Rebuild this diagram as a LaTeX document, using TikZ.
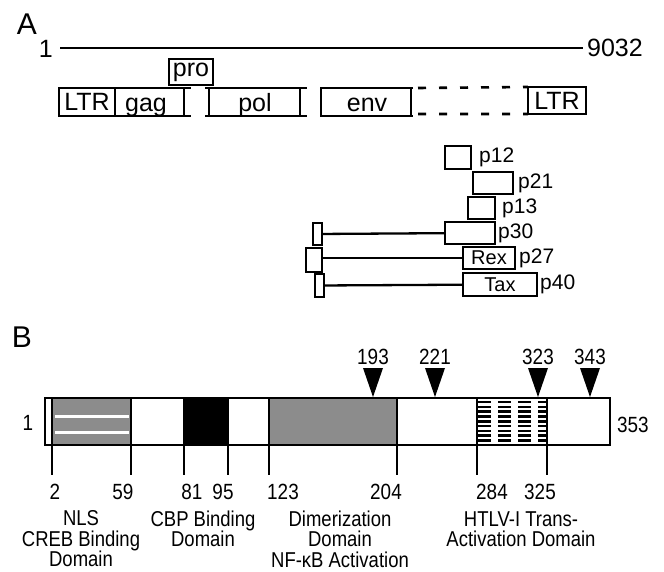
\documentclass[tikz,border=0pt]{standalone}
\usepackage{fontspec}
\setmainfont{Liberation Sans}
\newfontfamily\narrowfont[FakeStretch=0.86]{Liberation Sans}
\usetikzlibrary{positioning}

\begin{document}
\begin{tikzpicture}[x=1pt, y=-1pt, line width=2.3pt,
  gene/.style={draw, line width=2.6pt, inner sep=0pt, outer sep=0pt,
    anchor=north west, font=\fontsize{25}{25}\selectfont},
  orf/.style={draw, line width=2.4pt, inner sep=0pt, outer sep=0pt,
    anchor=north west, font=\fontsize{20}{20}\selectfont},
  plab/.style={inner sep=0pt, font=\fontsize{21}{21}\selectfont},
  num/.style={inner sep=0pt, font=\narrowfont\fontsize{22}{22}\selectfont},
  dom/.style={inner sep=0pt, align=center,
    font=\narrowfont\fontsize{21.5}{20.5}\selectfont},
  panel/.style={inner sep=0pt, font=\fontsize{30}{30}\selectfont}]
  \useasboundingbox (0,0) rectangle (664,572);

  \node[panel] (panA) at (27,24) {A};
  \node[anchor=east, inner sep=0pt, font=\fontsize{25}{25}\selectfont] (first) at (54,49) {1};
  \node[anchor=west, inner sep=0pt, font=\fontsize{25}{25}\selectfont] (last) at (586,48) {9032};
  \draw ([xshift=6pt]first.east |- 0,48) -- ([xshift=-3pt]last.west);

  \node[gene, minimum width=56pt, minimum height=28pt] (ltrL) at (59,88) {LTR};
  \node[gene, minimum width=44pt, minimum height=26pt] (pro) at (169,59) {pro};
  \node[gene, minimum width=58pt, minimum height=27pt] (ltrR) at (528,87) {LTR};

  \draw[line width=2.6pt] (ltrL.north east) -- (191,88) (ltrL.south east) -- (191,116)
    (184,88) -- (184,116);
  \node[anchor=base, inner sep=0pt, font=\fontsize{25}{25}\selectfont] (gag) at (146,112) {gag};

  \draw[line width=2.6pt] (205,88) -- (307,88) (205,116) -- (307,116)
    (209,88) -- (209,116) (300,88) -- (300,116);
  \node[anchor=base, inner sep=0pt, font=\fontsize{25}{25}\selectfont] (pol) at (255,112) {pol};

  \draw[line width=2.6pt] (413,88) -- (321,88) -- (321,116) -- (413,116)
    (411,88) -- (411,116);
  \node[anchor=base, inner sep=0pt, font=\fontsize{25}{25}\selectfont] (env) at (367,112) {env};

  \draw[line width=2.6pt, dash pattern=on 8pt off 13pt] (418,88) -- (ltrR.north west)
    (418,114) -- (ltrR.south west);

  \node[orf, minimum width=26pt, minimum height=23pt] (p12) at (445,146) {};
  \node[orf, minimum width=40pt, minimum height=22pt] (p21) at (473,172) {};
  \node[orf, minimum width=27pt, minimum height=22pt] (p13) at (468,197) {};
  \node[orf, minimum width=50pt, minimum height=22pt] (p30) at (445,222) {};
  \node[orf, minimum width=52pt, minimum height=22pt] (rex) at (463,247) {Rex};
  \node[orf, minimum width=74pt, minimum height=23pt] (tax) at (463,273) {Tax};

  \node[orf, minimum width=9pt, minimum height=22pt] (p30s) at (313,223) {};
  \node[orf, minimum width=16pt, minimum height=24pt] (rexs) at (306,248) {};
  \node[orf, minimum width=9pt, minimum height=23pt] (taxs) at (315,274) {};
  \draw (p30s) -- (p30);
  \draw (rexs.east |- rex.west) -- (rex.west);
  \draw (taxs) -- (tax);

  \node[plab, right=7pt of p12] (l12) {p12};
  \node[plab, right=4pt of p21] (l21) {p21};
  \node[plab, right=6pt of p13] (l13) {p13};
  \node[plab, right=2pt of p30] (l30) {p30};
  \node[plab, right=3pt of rex] (l27) {p27};
  \node[plab, right=2pt of tax] (l40) {p40};

  \node[panel] (panB) at (22,337) {B};

  \fill[black!45] (52,398) rectangle (131,445);
  \draw[white, line width=3pt] (55,416) -- (129,416) (55,432) -- (129,432);
  \fill (184,398) rectangle (228,445);
  \fill[black!45] (269,398) rectangle (397,445);
  \foreach \y in {402,406.8,...,441}
    \draw[line width=2.6pt, dash pattern=on 13pt off 7pt] (478,\y) -- (547,\y);
  \draw[line width=2.6pt] (45,398) rectangle (610,445);
  \foreach \x in {52,131,184,228,269,397,477,547}
    \draw (\x,398) -- (\x,475);

  \foreach \x/\n in {373/193, 435/221, 538/323, 590/343} {
    \fill (\x-10,368) -- (\x+10,368) -- (\x,397) -- cycle;
    \node[num] (site\n) at (\x,357) {\n};
  }

  \node[num] (res1) at (28,423) {1};
  \node[num, anchor=west] (res353) at (616,425) {353};

  \foreach \x/\n in {55/2, 123/59, 192/81, 223/95, 283/123, 386/204, 492/284, 540/325}
    \node[num] (pos\n) at (\x,492) {\n};

  \node[dom] (nls) at (81,539) {NLS\\CREB Binding\\Domain};
  \node[dom] (cbp) at (203,529) {CBP Binding\\Domain};
  \node[dom] (dim) at (340,539) {Dimerization\\Domain\\NF-κB Activation};
  \node[dom] (trans) at (521,529) {HTLV-I Trans-\\Activation Domain};
\end{tikzpicture}
\end{document}
